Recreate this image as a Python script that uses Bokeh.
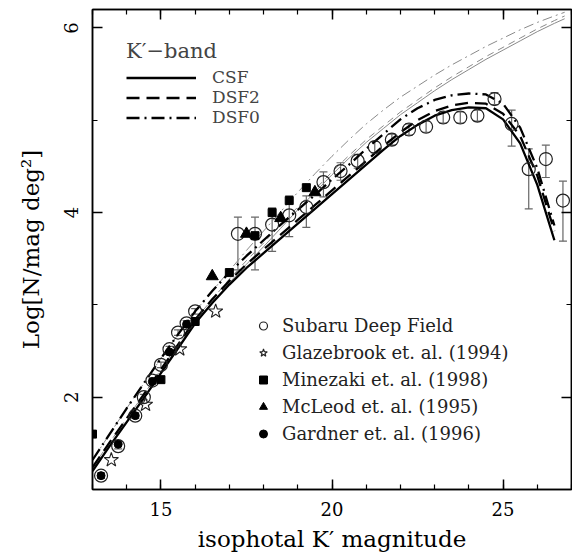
from bokeh.plotting import figure
from bokeh.models import (Range1d, LinearAxis, SingleIntervalTicker, Whisker, TeeHead,
                          ColumnDataSource, Legend, LegendItem, CustomJSTickFormatter)
from bokeh.embed import file_html
from bokeh.resources import INLINE

# ---------------- data ----------------
# Subaru Deep Field (open circles with error bars)
sdf_mag = [13.25, 13.75, 14.25, 14.5, 14.75, 15.0, 15.25, 15.5, 15.75, 16.0,
           17.25, 17.75, 18.25, 18.75, 19.25, 19.75, 20.25, 20.75, 21.25, 21.75,
           22.25, 22.75, 23.25, 23.75, 24.25, 24.75, 25.25, 25.75, 26.25, 26.75]
sdf_logn = [1.15, 1.47, 1.80, 2.00, 2.18, 2.35, 2.52, 2.70, 2.80, 2.93,
            3.77, 3.77, 3.87, 3.97, 4.06, 4.33, 4.45, 4.56, 4.71, 4.79,
            4.90, 4.93, 5.03, 5.03, 5.05, 5.23, 4.96, 4.47, 4.58, 4.13]
sdf_err_minus = [0.03, 0.03, 0.03, 0.03, 0.03, 0.03, 0.03, 0.03, 0.03, 0.03,
                 0.39, 0.39, 0.29, 0.23, 0.22, 0.16, 0.10, 0.08, 0.06, 0.06,
                 0.06, 0.06, 0.06, 0.06, 0.06, 0.06, 0.24, 0.43, 0.20, 0.44]
sdf_err_plus = [0.03, 0.03, 0.03, 0.03, 0.03, 0.03, 0.03, 0.03, 0.03, 0.03,
                0.18, 0.18, 0.18, 0.21, 0.12, 0.11, 0.09, 0.07, 0.06, 0.06,
                0.06, 0.06, 0.06, 0.06, 0.06, 0.07, 0.15, 0.22, 0.15, 0.21]

# Glazebrook et al. (1994) (open stars)
glaz_mag = [13.55, 14.55, 15.55, 16.6]
glaz_logn = [1.32, 1.92, 2.52, 2.93]

# Minezaki et al. (1998) (filled squares)
mine_mag = [13.0, 15.0, 16.0, 17.0, 17.75, 18.25, 18.75, 19.25]
mine_logn = [1.60, 2.19, 2.82, 3.35, 3.75, 4.00, 4.13, 4.27]

# McLeod et al. (1995) (filled triangles)
mcl_mag = [16.5, 17.5, 18.5, 19.5]
mcl_logn = [3.31, 3.77, 3.94, 4.22]

# Gardner et al. (1996) (filled circles)
gard_mag = [13.25, 13.75, 14.25, 14.75, 15.25, 15.75]
gard_logn = [1.15, 1.49, 1.80, 2.17, 2.49, 2.79]

# model curves (thick)
model_mag = [13.0, 13.5, 14.0, 14.5, 15.0, 15.5, 16.0, 16.5, 17.0, 17.5,
             18.0, 18.5, 19.0, 19.5, 20.0, 20.5, 21.0, 21.5, 22.0, 22.5,
             23.0, 23.5, 24.0, 24.5, 25.0, 25.5, 26.0, 26.5]
csf = [1.20, 1.47, 1.73, 1.99, 2.26, 2.53, 2.80, 3.02, 3.22, 3.40,
       3.56, 3.72, 3.88, 4.04, 4.20, 4.36, 4.52, 4.68, 4.83, 4.95,
       5.05, 5.11, 5.14, 5.13, 5.01, 4.75, 4.30, 3.70]
dsf2 = [1.24, 1.51, 1.77, 2.03, 2.30, 2.57, 2.84, 3.06, 3.26, 3.44,
        3.60, 3.76, 3.92, 4.08, 4.24, 4.40, 4.56, 4.72, 4.87, 5.00,
        5.10, 5.16, 5.19, 5.18, 5.07, 4.83, 4.40, 3.80]
dsf0 = [1.32, 1.60, 1.88, 2.15, 2.42, 2.68, 2.93, 3.15, 3.35, 3.53,
        3.70, 3.87, 4.03, 4.19, 4.36, 4.52, 4.69, 4.85, 5.01, 5.13,
        5.22, 5.27, 5.29, 5.28, 5.18, 4.92, 4.48, 3.86]

# model curves (thin, grey)
thin_mag = [13.0, 13.5, 14.0, 14.5, 15.0, 15.5, 16.0, 16.5, 17.0, 17.5,
            18.0, 18.5, 19.0, 19.5, 20.0, 20.5, 21.0, 21.5, 22.0, 22.5,
            23.0, 23.5, 24.0, 24.5, 25.0, 25.5, 26.0, 26.5, 26.8]
thin_csf = [1.20, 1.47, 1.73, 1.99, 2.26, 2.53, 2.80, 3.02, 3.24, 3.44,
            3.63, 3.83, 4.03, 4.22, 4.41, 4.59, 4.76, 4.91, 5.06, 5.19,
            5.32, 5.44, 5.55, 5.66, 5.76, 5.86, 5.96, 6.05, 6.10]
thin_dsf2 = [1.24, 1.51, 1.77, 2.03, 2.30, 2.57, 2.84, 3.06, 3.28, 3.48,
             3.67, 3.87, 4.06, 4.25, 4.44, 4.62, 4.79, 4.94, 5.09, 5.22,
             5.35, 5.47, 5.58, 5.69, 5.79, 5.89, 5.99, 6.08, 6.13]
thin_dsf0 = [1.32, 1.60, 1.88, 2.15, 2.42, 2.68, 2.93, 3.15, 3.37, 3.59,
             3.80, 4.01, 4.22, 4.42, 4.61, 4.79, 4.96, 5.11, 5.25, 5.37,
             5.49, 5.60, 5.70, 5.80, 5.89, 5.98, 6.06, 6.13, 6.17]

x_label = "isophotal K\u2032 magnitude"
y_label = "Log[N/mag deg\u00b2]"
legend_title = "K\u2032\u2212band"
model_names = ["CSF", "DSF2", "DSF0"]
data_names = ["Subaru Deep Field", "Glazebrook et. al. (1994)", "Minezaki et. al. (1998)",
              "McLeod et. al. (1995)", "Gardner et. al. (1996)"]

# ---------------- figure ----------------
SERIF = "DejaVu Serif"
p = figure(frame_width=479, frame_height=480, x_range=Range1d(13, 27), y_range=Range1d(1, 6.2),
           output_backend="svg", toolbar_location=None,
           x_axis_location=None, y_axis_location=None,
           min_border_left=92, min_border_right=1, min_border_top=9, min_border_bottom=69)
p.xgrid.visible = False
p.ygrid.visible = False
p.outline_line_color = "black"
p.outline_line_width = 1.5
p.background_fill_color = "white"
p.border_fill_color = "white"


def style_axis(ax, show_labels):
    ax.major_tick_in = 10
    ax.major_tick_out = 0
    ax.minor_tick_in = 5
    ax.minor_tick_out = 0
    ax.axis_line_color = "black"
    ax.axis_line_width = 1.5
    ax.major_tick_line_width = 1.5
    ax.minor_tick_line_width = 1.2
    ax.major_tick_line_color = "black"
    ax.minor_tick_line_color = "black"
    if show_labels:
        ax.major_label_text_font = SERIF
        ax.major_label_text_font_size = "18px"
        ax.major_label_text_color = "black"
        ax.axis_label_text_font = SERIF
        ax.axis_label_text_font_size = "23px"
        ax.axis_label_text_font_style = "normal"
        ax.axis_label_text_color = "black"
    else:
        ax.formatter = CustomJSTickFormatter(code="return ''")
        ax.major_label_standoff = 0


xb = LinearAxis(ticker=SingleIntervalTicker(interval=5, num_minor_ticks=5), axis_label=x_label)
style_axis(xb, True)
xb.major_label_standoff = 12
xb.axis_label_standoff = 7
p.add_layout(xb, "below")

xt = LinearAxis(ticker=SingleIntervalTicker(interval=5, num_minor_ticks=5))
style_axis(xt, False)
p.add_layout(xt, "above")

yl = LinearAxis(ticker=SingleIntervalTicker(interval=2, num_minor_ticks=2), axis_label=y_label)
style_axis(yl, True)
yl.major_label_orientation = "parallel"
yl.major_label_standoff = 14
yl.axis_label_standoff = 18
p.add_layout(yl, "left")

yr = LinearAxis(ticker=SingleIntervalTicker(interval=2, num_minor_ticks=2))
style_axis(yr, False)
p.add_layout(yr, "right")

# thin grey model curves
GREY = "#8a8a8a"
p.line(thin_mag, thin_csf, line_color=GREY, line_width=1)
p.line(thin_mag, thin_dsf2, line_color=GREY, line_width=1, line_dash="7 5")
p.line(thin_mag, thin_dsf0, line_color=GREY, line_width=1, line_dash="10 4 2 4")

# thick model curves
r_csf = p.line(model_mag, csf, line_color="black", line_width=2.3)
r_dsf2 = p.line(model_mag, dsf2, line_color="black", line_width=2.3, line_dash="13 7")
r_dsf0 = p.line(model_mag, dsf0, line_color="black", line_width=2.3, line_dash="13 5 2 5")

# SDF error bars
sdf_src = ColumnDataSource(dict(
    x=sdf_mag, y=sdf_logn,
    lo=[v - e for v, e in zip(sdf_logn, sdf_err_minus)],
    hi=[v + e for v, e in zip(sdf_logn, sdf_err_plus)],
))
ERR = "#666666"
wh = Whisker(source=sdf_src, base="x", lower="lo", upper="hi",
             line_color=ERR, line_width=1.2,
             lower_head=TeeHead(size=8, line_color=ERR, line_width=1.2),
             upper_head=TeeHead(size=8, line_color=ERR, line_width=1.2))
p.add_layout(wh)

r_sdf = p.scatter("x", "y", source=sdf_src, marker="circle", size=13,
                  fill_color=None, line_color="#222222", line_width=1.2)
r_glaz = p.scatter(glaz_mag, glaz_logn, marker="star", size=15,
                   fill_color=None, line_color="#222222", line_width=1.1)
r_mine = p.scatter(mine_mag, mine_logn, marker="square", size=8,
                   fill_color="black", line_color="black")
r_mcl = p.scatter(mcl_mag, mcl_logn, marker="triangle", size=12,
                  fill_color="black", line_color="black")
r_gard = p.scatter(gard_mag, gard_logn, marker="circle", size=8,
                   fill_color="black", line_color="black")

# legends
leg1 = Legend(items=[LegendItem(label=model_names[0], renderers=[r_csf]),
                     LegendItem(label=model_names[1], renderers=[r_dsf2]),
                     LegendItem(label=model_names[2], renderers=[r_dsf0])],
              title=legend_title, location=(34, 362))
leg1.title_text_font = SERIF
leg1.title_text_font_size = "21px"
leg1.title_text_font_style = "normal"
leg1.title_standoff = 4
leg1.label_text_font = SERIF
leg1.label_text_font_size = "17px"
leg1.glyph_width = 70
leg1.glyph_height = 19
leg1.label_height = 19
leg1.spacing = 0
leg1.padding = 0
leg1.margin = 0
leg1.label_standoff = 16
leg1.background_fill_alpha = 0
leg1.border_line_alpha = 0
p.add_layout(leg1)

leg2 = Legend(items=[LegendItem(label=n, renderers=[r]) for n, r in
                     zip(data_names, [r_sdf, r_glaz, r_mine, r_mcl, r_gard])],
              location=(161, 42))
leg2.label_text_font = SERIF
leg2.label_text_font_size = "18px"
leg2.label_text_color = "#222222"
leg2.glyph_width = 20
leg2.glyph_height = 27
leg2.label_height = 27
leg2.spacing = 0
leg2.padding = 0
leg2.margin = 0
leg2.label_standoff = 9
leg2.background_fill_alpha = 0
leg2.border_line_alpha = 0
p.add_layout(leg2)

open("out.html", "w").write(file_html(p, INLINE))
